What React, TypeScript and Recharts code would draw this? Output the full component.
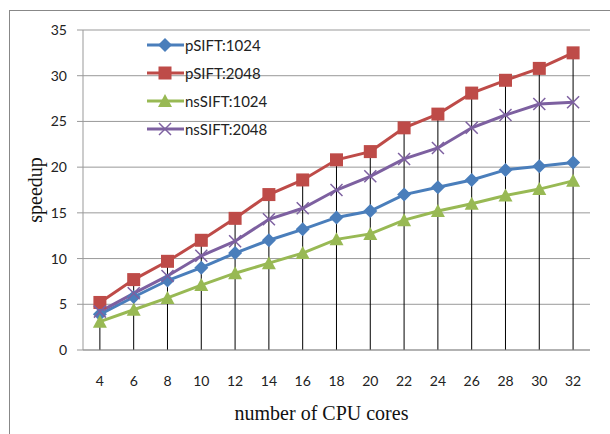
import {
  ComposedChart,
  Line,
  Bar,
  XAxis,
  YAxis,
  CartesianGrid,
  Label,
} from "recharts";

const cores = ["4", "6", "8", "10", "12", "14", "16", "18", "20", "22", "24", "26", "28", "30", "32"];
const pSIFT1024 = [3.9, 5.8, 7.6, 9.0, 10.6, 12.0, 13.2, 14.5, 15.2, 17.0, 17.8, 18.6, 19.7, 20.1, 20.5];
const pSIFT2048 = [5.2, 7.7, 9.7, 12.0, 14.4, 17.0, 18.6, 20.8, 21.7, 24.3, 25.8, 28.1, 29.5, 30.8, 32.5];
const nsSIFT1024 = [3.1, 4.4, 5.7, 7.1, 8.4, 9.5, 10.6, 12.1, 12.7, 14.2, 15.2, 16.0, 16.9, 17.6, 18.5];
const nsSIFT2048 = [4.2, 6.2, 8.1, 10.3, 11.9, 14.3, 15.5, 17.5, 19.0, 20.9, 22.1, 24.3, 25.7, 26.9, 27.1];
const yTicks = [0, 5, 10, 15, 20, 25, 30, 35];

const data = cores.map((c, i) => ({
  cores: c,
  p1024: pSIFT1024[i],
  p2048: pSIFT2048[i],
  ns1024: nsSIFT1024[i],
  ns2048: nsSIFT2048[i],
  top: Math.max(pSIFT1024[i], pSIFT2048[i], nsSIFT1024[i], nsSIFT2048[i]),
}));

const series = [
  { key: "p1024", name: "pSIFT:1024", color: "#4A7EBB", shape: "diamond" },
  { key: "p2048", name: "pSIFT:2048", color: "#BE4B48", shape: "square" },
  { key: "ns1024", name: "nsSIFT:1024", color: "#98B954", shape: "triangle" },
  { key: "ns2048", name: "nsSIFT:2048", color: "#7D60A0", shape: "cross" },
];

function Marker({ cx, cy, shape, color }: { cx: number; cy: number; shape: string; color: string }) {
  if (cx == null || cy == null) return null;
  if (shape === "square") {
    return <rect x={cx - 6.5} y={cy - 6.5} width={13} height={13} fill={color} />;
  }
  if (shape === "diamond") {
    return (
      <polygon
        points={`${cx},${cy - 7} ${cx + 7},${cy} ${cx},${cy + 7} ${cx - 7},${cy}`}
        fill={color}
      />
    );
  }
  if (shape === "triangle") {
    return (
      <polygon
        points={`${cx},${cy - 7} ${cx + 7},${cy + 6} ${cx - 7},${cy + 6}`}
        fill={color}
      />
    );
  }
  return (
    <g stroke={color} strokeWidth={1.5}>
      <line x1={cx - 6} y1={cy - 6} x2={cx + 6} y2={cy + 6} />
      <line x1={cx - 6} y1={cy + 6} x2={cx + 6} y2={cy - 6} />
    </g>
  );
}

// black drop line from the axis up to the highest point
function DropLine(props: any) {
  const { x, y, width, height } = props;
  const mx = x + width / 2;
  return <line x1={mx} y1={y} x2={mx} y2={y + height} stroke="#000" strokeWidth={1} />;
}

function LegendBox() {
  return (
    <div
      style={{
        position: "absolute",
        left: 147,
        top: 31,
        fontFamily: "Lato",
        fontSize: 15,
        color: "#222",
      }}
    >
      {series.map((s) => (
        <div key={s.key} style={{ display: "flex", alignItems: "center", height: 28 }}>
          <svg width={38} height={28}>
            <line x1={0} y1={14} x2={37} y2={14} stroke={s.color} strokeWidth={3} />
            <Marker cx={18} cy={14} shape={s.shape} color={s.color} />
          </svg>
          <span>{s.name}</span>
        </div>
      ))}
    </div>
  );
}

export default function App() {
  return (
    <div style={{ position: "absolute", left: 0, top: 0, width: 610, height: 434, background: "#fff", overflow: "hidden" }}>
      <div
        style={{
          position: "absolute",
          left: 9,
          top: 10,
          width: 610,
          height: 440,
          borderLeft: "1px solid #888",
          borderTop: "1px solid #888",
        }}
      />
      <ComposedChart
        width={610}
        height={434}
        data={data}
        margin={{ top: 30, right: 20, bottom: 24, left: 0 }}
        style={{ position: "absolute", left: 0, top: 0 }}
      >
        <CartesianGrid vertical={false} stroke="#999" />
        <XAxis
          dataKey="cores"
          height={60}
          axisLine={{ stroke: "#999" }}
          tickLine={false}
          tickMargin={20}
          tick={{ fill: "#222", fontSize: 14, fontFamily: "Lato" }}
        >
          <Label
            value="number of CPU cores"
            position="insideBottom"
            offset={-10}
            dx={-15}
            style={{ fontFamily: "Liberation Serif", fontSize: 20, fill: "#111" }}
          />
        </XAxis>
        <YAxis
          width={83}
          domain={[0, 35]}
          ticks={yTicks}
          axisLine={{ stroke: "#999" }}
          tickLine={{ stroke: "#999" }}
          tickSize={6}
          tickMargin={10}
          tick={{ fill: "#222", fontSize: 14, fontFamily: "Lato" }}
        >
          <Label
            value="speedup"
            angle={-90}
            position="insideLeft"
            offset={35}
            style={{ fontFamily: "Liberation Serif", fontSize: 20, fill: "#111", textAnchor: "middle" }}
          />
        </YAxis>
        <Bar dataKey="top" shape={<DropLine />} isAnimationActive={false} legendType="none" />
        {series.map((s) => (
          <Line
            key={s.key}
            dataKey={s.key}
            name={s.name}
            stroke={s.color}
            strokeWidth={3}
            dot={(p: any) => <Marker key={`${s.key}-${p.index}`} cx={p.cx} cy={p.cy} shape={s.shape} color={s.color} />}
            activeDot={false}
            isAnimationActive={false}
          />
        ))}
      </ComposedChart>
      <LegendBox />
    </div>
  );
}
